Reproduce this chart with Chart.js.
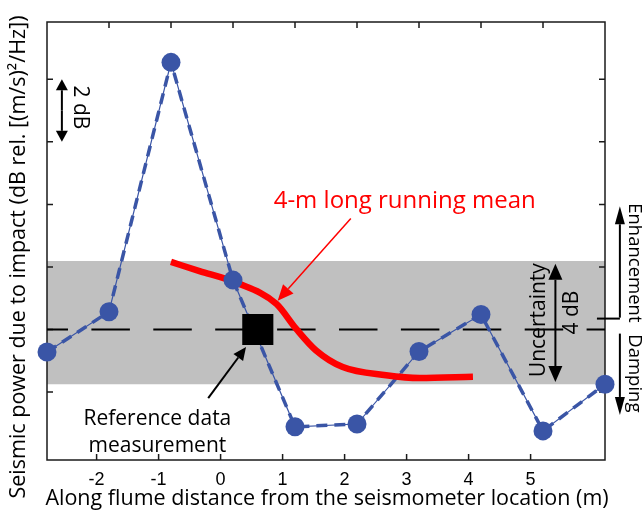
<!DOCTYPE html>
<html>
<head>
<meta charset="utf-8">
<script src="https://cdn.jsdelivr.net/npm/chart.js@4.4.0/dist/chart.umd.min.js"></script>
<style>
  body { margin: 0; background: #fff; }
  #wrap { width: 642px; height: 517px; }
</style>
</head>
<body>
<div id="wrap"><canvas id="chart" width="642" height="517"></canvas></div>
<script>
// measured impact power along the flume (m, dB relative to the reference shot)
const distance = [-2.8, -1.8, -0.8, 0.2, 1.2, 2.2, 3.2, 4.2, 5.2, 6.2];
const powerDb = [-0.72, 0.57, 8.54, 1.58, -3.11, -3.02, -0.70, 0.48, -3.24, -1.75];

// 4-m running mean
const meanDistance = [-0.8, -0.34, 0.25, 0.9, 1.22, 1.54, 1.97, 2.67, 3.21, 4.07];
const meanDb = [2.16, 1.87, 1.5, 0.82, 0.02, -0.67, -1.2, -1.46, -1.55, -1.51];

// reference measurement and uncertainty band
const refDistance = 0.6;
const refDb = 0;
const bandLow = -1.75;
const bandHigh = 2.19;

const xTicks = [-2, -1, 0, 1, 2, 3, 4, 5];
const topTicks = [-1.8, -0.8, 0.2, 1.2, 2.2, 3.2, 4.2, 5.2];
const yTicks = [-2, 0, 2, 4, 6, 8];

const BLUE = '#3a55a6';
const RED = '#ff0000';
const TEXT_FONT = '"Open Sans", sans-serif';

const pts = (xs, ys) => xs.map((x, i) => ({ x: x, y: ys[i] }));

// ---- helpers for the annotations ----
function arrow(ctx, x1, y1, x2, y2, opts) {
  // line from (x1,y1) to the tip (x2,y2), filled head at the tip
  const len = opts.head, half = opts.half;
  const a = Math.atan2(y2 - y1, x2 - x1);
  const bx = x2 - len * Math.cos(a), by = y2 - len * Math.sin(a);
  ctx.save();
  ctx.strokeStyle = ctx.fillStyle = opts.color;
  ctx.lineWidth = opts.width;
  ctx.beginPath();
  ctx.moveTo(x1, y1);
  ctx.lineTo(bx, by);
  ctx.stroke();
  ctx.beginPath();
  ctx.moveTo(x2, y2);
  ctx.lineTo(bx + half * Math.sin(a), by - half * Math.cos(a));
  ctx.lineTo(bx - half * Math.sin(a), by + half * Math.cos(a));
  ctx.closePath();
  ctx.fill();
  ctx.restore();
}

function doubleArrow(ctx, x, y1, y2, opts) {
  const mid = (y1 + y2) / 2;
  arrow(ctx, x, mid, x, y1, opts);
  arrow(ctx, x, mid, x, y2, opts);
}

function text(ctx, str, x, y, size, angle, color) {
  ctx.save();
  ctx.translate(x, y);
  ctx.rotate(angle || 0);
  ctx.font = size + 'px ' + TEXT_FONT;
  ctx.fillStyle = color || '#000';
  ctx.textAlign = 'center';
  ctx.textBaseline = 'middle';
  ctx.fillText(str, 0, 0);
  ctx.restore();
}

// box with inward ticks, drawn just above the grey band
const frame = {
  id: 'frame',
  afterDatasetDraw(chart, args) {
    if (args.index !== 0) return;
    const { ctx, chartArea: a, scales: { x, y } } = chart;
    ctx.save();
    ctx.strokeStyle = '#1a1a1a';
    ctx.lineWidth = 1.5;
    ctx.strokeRect(a.left, a.top, a.width, a.height);
    ctx.beginPath();
    xTicks.forEach(v => {
      const p = x.getPixelForValue(v);
      ctx.moveTo(p, a.bottom); ctx.lineTo(p, a.bottom - 6);
    });
    topTicks.forEach(v => {
      const p = x.getPixelForValue(v);
      ctx.moveTo(p, a.top); ctx.lineTo(p, a.top + 6);
    });
    yTicks.forEach(v => {
      const p = y.getPixelForValue(v);
      ctx.moveTo(a.left, p); ctx.lineTo(a.left + 6, p);
      if (v !== 0) { ctx.moveTo(a.right, p); ctx.lineTo(a.right - 6, p); }
    });
    ctx.stroke();
    ctx.restore();
  }
};

const notes = {
  id: 'notes',
  afterDraw(chart) {
    const { ctx, scales: { x, y } } = chart;
    const px = v => x.getPixelForValue(v);
    const py = v => y.getPixelForValue(v);
    const black = { color: '#000', width: 2, head: 11, half: 6 };

    // axis titles
    text(ctx, 'Seismic power due to impact (dB rel. [(m/s)\u00b2/Hz])', 19, 257, 21.5, -Math.PI / 2);
    text(ctx, 'Along flume distance from the seismometer location (m)', 327, 499, 21.5);

    // 2 dB scale bar
    doubleArrow(ctx, px(-2.56), py(8), py(6), black);
    text(ctx, '2 dB', px(-2.27), py(7.1), 21, Math.PI / 2);

    // running mean label
    text(ctx, '4-m long running mean', px(2.97), py(4.1), 24, 0, RED);
    arrow(ctx, px(2.1), py(3.55), px(0.92), py(0.92), { color: RED, width: 1.5, head: 16, half: 7 });

    // reference label
    text(ctx, 'Reference data', px(-1.02), py(-2.85), 21);
    text(ctx, 'measurement', px(-1.02), py(-3.72), 21);
    arrow(ctx, px(-0.2), py(-2.19), px(0.41), py(-0.56), { color: '#000', width: 2, head: 13, half: 6 });

    // uncertainty
    doubleArrow(ctx, px(5.4), py(2.1), py(-1.68), { color: '#000', width: 2, head: 16, half: 7 });
    text(ctx, 'Uncertainty', px(5.14), py(0.3), 21, -Math.PI / 2);
    text(ctx, '4 dB', px(5.66), py(0.54), 21, -Math.PI / 2);

    // enhancement / damping side markers
    const sx = px(6.44);
    ctx.save();
    ctx.strokeStyle = '#000';
    ctx.lineWidth = 2;
    ctx.beginPath();
    ctx.moveTo(px(6.07), py(0.35));
    ctx.lineTo(sx, py(0.35));
    ctx.stroke();
    ctx.restore();
    arrow(ctx, sx, py(0.38), sx, py(3.94), { color: '#000', width: 2, head: 18, half: 5 });
    arrow(ctx, sx, py(-0.13), sx, py(-2.73), { color: '#000', width: 2, head: 18, half: 5 });
    text(ctx, 'Enhancement', px(6.67), py(2.13), 18.5, Math.PI / 2);
    text(ctx, 'Damping', px(6.67), py(-1.4), 18.5, Math.PI / 2);
  }
};

const ctx = document.querySelector('#chart');

new Chart(ctx, {
  type: 'scatter',
  data: {
    datasets: [
      {
        // uncertainty band
        type: 'line',
        data: [{ x: -2.8, y: bandHigh }, { x: 6.2, y: bandHigh }],
        fill: { value: bandLow },
        backgroundColor: '#c0c0c0',
        borderWidth: 0,
        pointRadius: 0,
        order: 7
      },
      {
        // zero line through the reference
        type: 'line',
        data: [{ x: -2.8, y: refDb }, { x: 6.2, y: refDb }],
        borderColor: '#000',
        borderWidth: 2,
        borderDash: [38.5, 23.4],
        borderDashOffset: 17.5,
        pointRadius: 0,
        order: 6
      },
      {
        type: 'line',
        data: pts(distance, powerDb),
        borderColor: BLUE,
        borderWidth: 1.2,
        pointRadius: 0,
        order: 5
      },
      {
        type: 'line',
        data: pts(distance, powerDb),
        borderColor: BLUE,
        borderWidth: 3.5,
        borderDash: [11, 7],
        pointRadius: 0,
        order: 4
      },
      {
        type: 'line',
        data: pts(meanDistance, meanDb),
        borderColor: RED,
        borderWidth: 6.5,
        cubicInterpolationMode: 'monotone',
        borderCapStyle: 'butt',
        pointRadius: 0,
        order: 3
      },
      {
        data: pts(distance, powerDb),
        pointRadius: 9.5,
        pointBackgroundColor: BLUE,
        pointBorderWidth: 0,
        clip: false,
        order: 2
      },
      {
        data: [{ x: refDistance, y: refDb }],
        pointStyle: 'rect',
        pointRadius: 22,
        pointBackgroundColor: '#000',
        pointBorderWidth: 0,
        order: 1
      }
    ]
  },
  options: {
    responsive: false,
    animation: false,
    events: [],
    layout: { padding: { top: 19, right: 37, left: 0, bottom: 0 } },
    plugins: { legend: { display: false }, tooltip: { enabled: false } },
    scales: {
      x: {
        type: 'linear',
        min: -2.8,
        max: 6.2,
        afterBuildTicks: s => { s.ticks = xTicks.map(v => ({ value: v })); },
        afterFit: s => { s.height = 57; },
        grid: { display: false, drawTicks: false },
        border: { display: false },
        ticks: {
          color: '#000',
          padding: 9,
          font: { family: '"Liberation Sans"', size: 18 },
          callback: v => String(v)
        }
      },
      y: {
        min: -4.17,
        max: 9.83,
        afterBuildTicks: s => { s.ticks = yTicks.map(v => ({ value: v })); },
        afterFit: s => { s.width = 47; },
        grid: { display: false },
        border: { display: false },
        ticks: { display: false }
      }
    }
  },
  plugins: [frame, notes]
});
</script>
</body>
</html>
